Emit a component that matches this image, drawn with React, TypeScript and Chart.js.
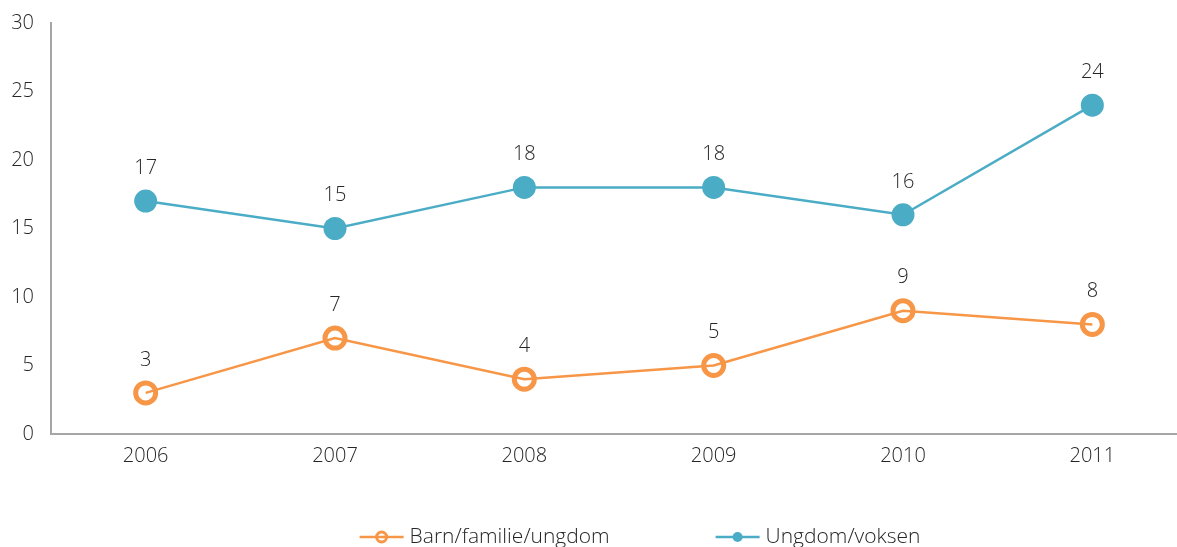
import React, { useEffect, useRef } from "react";
import { Chart, registerables } from "chart.js";

Chart.register(...registerables);

const categories = ["2006", "2007", "2008", "2009", "2010", "2011"];
const barnFamilieUngdom = [3, 7, 4, 5, 9, 8];
const ungdomVoksen = [17, 15, 18, 18, 16, 24];
const seriesNames = ["Barn/familie/ungdom", "Ungdom/voksen"];
const yTicks = [0, 5, 10, 15, 20, 25, 30];

const ORANGE = "#F79646";
const BLUE = "#4BACC6";
const TEXT = "#262626";
const AXIS = "#A6A6A6";
const FONT = "'Open Sans', sans-serif";
const FS = 20;
const FW = "300";

const dataLabels = {
  id: "dataLabels",
  afterDatasetsDraw(chart: any) {
    const ctx = chart.ctx;
    ctx.save();
    ctx.font = `${FW} ${FS}px ${FONT}`;
    ctx.fillStyle = TEXT;
    ctx.textAlign = "center";
    ctx.textBaseline = "middle";
    chart.data.datasets.forEach((ds: any, i: number) => {
      const meta = chart.getDatasetMeta(i);
      meta.data.forEach((pt: any, j: number) => {
        ctx.fillText(String(ds.data[j]), pt.x, pt.y - 33);
      });
    });
    ctx.restore();
  },
};

const customLegend = {
  id: "customLegend",
  afterDraw(chart: any) {
    const ctx = chart.ctx;
    ctx.save();
    ctx.font = `${FW} 21px ${FONT}`;
    const lineW = 44;
    const textGap = 6;
    const itemGap = 106;
    const widths = chart.data.datasets.map(
      (ds: any) => lineW + textGap + ctx.measureText(ds.label).width
    );
    const total = widths.reduce((a: number, b: number) => a + b, 0) + itemGap;
    let x = 640 - total / 2;
    const y = 537;
    chart.data.datasets.forEach((ds: any, i: number) => {
      ctx.strokeStyle = ds.borderColor;
      ctx.lineWidth = 2.5;
      ctx.beginPath();
      ctx.moveTo(x, y);
      ctx.lineTo(x + lineW, y);
      ctx.stroke();
      ctx.beginPath();
      ctx.arc(x + lineW / 2, y, 5, 0, Math.PI * 2);
      if (ds.pointBackgroundColor === "transparent") {
        ctx.lineWidth = 3;
        ctx.strokeStyle = ds.pointBorderColor;
        ctx.stroke();
      } else {
        ctx.fillStyle = ds.pointBackgroundColor;
        ctx.fill();
      }
      ctx.fillStyle = TEXT;
      ctx.textAlign = "left";
      ctx.textBaseline = "middle";
      ctx.fillText(ds.label, x + lineW + textGap, y);
      x += widths[i] + itemGap;
    });
    ctx.restore();
  },
};

export default function App() {
  const ref = useRef<HTMLCanvasElement | null>(null);
  useEffect(() => {
    if (!ref.current) return;
    const chart = new Chart(ref.current, {
      type: "line",
      data: {
        labels: categories,
        datasets: [
          {
            label: seriesNames[0],
            data: barnFamilieUngdom,
            borderColor: ORANGE,
            borderWidth: 2.5,
            pointRadius: 10,
            pointBorderWidth: 5,
            pointBackgroundColor: "transparent",
            pointBorderColor: ORANGE,
            tension: 0,
          },
          {
            label: seriesNames[1],
            data: ungdomVoksen,
            borderColor: BLUE,
            borderWidth: 2.5,
            pointRadius: 11.5,
            pointBorderWidth: 0,
            pointBackgroundColor: BLUE,
            pointBorderColor: BLUE,
            tension: 0,
          },
        ],
      },
      options: {
        animation: false,
        responsive: true,
        maintainAspectRatio: false,
        layout: { autoPadding: false, padding: { top: 23, right: 8, bottom: 73, left: 0 } },
        plugins: {
          legend: { display: false },
          tooltip: { enabled: false },
        },
        scales: {
          x: {
            offset: true,
            grid: { display: false, drawTicks: false },
            border: { display: true, color: AXIS, width: 2 },
            ticks: { color: TEXT, font: { family: FONT, size: FS, weight: FW }, padding: 10 },
            afterFit: (s: any) => { s.height = 40; },
          },
          y: {
            min: 0,
            max: 30,
            afterBuildTicks: (s: any) => { s.ticks = yTicks.map((v) => ({ value: v })); },
            grid: { display: false, drawTicks: false },
            border: { display: true, color: AXIS, width: 2 },
            ticks: { color: TEXT, font: { family: FONT, size: FS, weight: FW }, padding: 17 },
            afterFit: (s: any) => { s.width = 51; s.paddingTop = 0; s.paddingBottom = 0; },
          },
        },
      },
      plugins: [dataLabels, customLegend],
    });
    return () => chart.destroy();
  }, []);
  return (
    <div style={{ position: "fixed", left: 0, top: 0, width: 1177, height: 547, overflow: "hidden", background: "#fff" }}>
      <div style={{ position: "absolute", left: 0, top: 0, width: 1195, height: 547 }}>
        <canvas ref={ref} />
      </div>
    </div>
  );
}
